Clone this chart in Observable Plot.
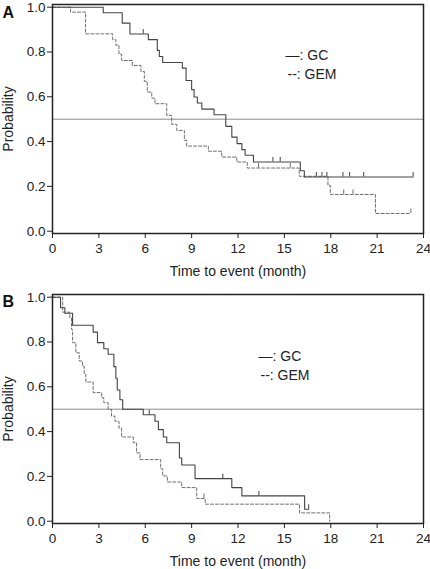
<!DOCTYPE html>
<html><head><meta charset="utf-8">
<script src="https://cdn.jsdelivr.net/npm/d3@7"></script>
<script src="https://cdn.jsdelivr.net/npm/@observablehq/plot@0.6"></script>
<style>
body{margin:0;background:#fff;}
#chart{width:430px;height:569px;font-family:"Liberation Sans",Arial,sans-serif;}
#chart svg{display:block;}
</style></head><body><div id="chart"></div>
<script>
const xTicks = [0, 3, 6, 9, 12, 15, 18, 21, 24];
const yTicks = [0, 0.2, 0.4, 0.6, 0.8, 1.0];
const xTitle = "Time to event (month)";
const yTitle = "Probability";
const seriesNames = ["GC", "GEM"];

// Panel A
const aGcTime = [0, 3.28, 4.51, 5.01, 6.2, 6.78, 6.91, 7.13, 8.4, 8.64, 9.0, 9.16, 9.37, 9.66, 10.45, 11.21, 11.6, 11.94, 12.25, 12.46, 13.0, 16.03, 16.29, 23.33];
const aGcSurv = [1.0, 0.975, 0.929, 0.88, 0.855, 0.807, 0.78, 0.753, 0.728, 0.673, 0.632, 0.599, 0.572, 0.545, 0.52, 0.468, 0.42, 0.391, 0.364, 0.339, 0.309, 0.27, 0.242, 0.242];
const aGcCensTime = [5.87, 14.26, 14.73, 17.07, 17.43, 17.75, 18.79, 19.22, 20.13, 23.33];
const aGcCensSurv = [0.88, 0.309, 0.309, 0.242, 0.242, 0.242, 0.242, 0.242, 0.242, 0.242];
const aGemTime = [0, 1.17, 2.14, 3.89, 4.1, 4.3, 4.47, 5.16, 5.72, 5.94, 6.13, 6.42, 6.63, 7.39, 7.71, 8.04, 8.53, 8.68, 10.08, 10.95, 11.92, 12.6, 15.96, 17.82, 17.97, 20.89, 23.18];
const aGemSurv = [1.0, 0.978, 0.881, 0.855, 0.83, 0.79, 0.762, 0.74, 0.713, 0.669, 0.621, 0.594, 0.569, 0.517, 0.477, 0.45, 0.406, 0.38, 0.357, 0.331, 0.309, 0.282, 0.245, 0.205, 0.164, 0.079, 0.079];
const aGemCensTime = [13.33, 15.38, 18.84, 19.44, 23.18];
const aGemCensSurv = [0.282, 0.282, 0.164, 0.164, 0.079];

// Panel B
const bGcTime = [0, 0.52, 0.8, 1.3, 2.63, 2.91, 3.32, 3.6, 3.97, 4.1, 4.19, 4.36, 4.54, 5.87, 6.63, 6.85, 7.17, 7.39, 8.21, 8.36, 9.22, 11.6, 12.25, 16.31, 16.57];
const bGcSurv = [1.0, 0.953, 0.928, 0.875, 0.844, 0.797, 0.77, 0.745, 0.69, 0.638, 0.586, 0.542, 0.5, 0.475, 0.446, 0.409, 0.376, 0.35, 0.282, 0.251, 0.19, 0.15, 0.113, 0.053, 0.053];
const bGcCensTime = [6.26, 11.02, 13.35, 16.57];
const bGcCensSurv = [0.475, 0.19, 0.113, 0.053];
const bGemTime = [0, 0.66, 1.12, 1.23, 1.3, 1.51, 1.73, 1.94, 2.05, 2.16, 2.63, 3.18, 3.32, 3.6, 3.82, 4.04, 4.3, 4.47, 5.23, 5.44, 5.66, 7.0, 7.13, 7.43, 8.36, 9.33, 9.88, 15.98, 17.93];
const bGemSurv = [1.0, 0.933, 0.908, 0.856, 0.797, 0.752, 0.715, 0.693, 0.656, 0.621, 0.574, 0.551, 0.529, 0.499, 0.469, 0.446, 0.416, 0.376, 0.35, 0.305, 0.275, 0.234, 0.202, 0.175, 0.15, 0.101, 0.076, 0.037, 0.0];
const bGemCensTime = [9.8];
const bGemCensSurv = [0.101];

const medianLine = [0.5];

const zip = (t, s) => t.map((v, i) => ({t: v, s: s[i]}));
const FONT = "Liberation Sans, Arial, sans-serif";
const gcColor = "#444444", gemColor = "#6e6e6e";

function panel({letter, gcT, gcS, gcCT, gcCS, gemT, gemS, gemCT, gemCS, height, marginTop, marginBottom, legendDx, legendDy, letterDy}) {
  const gc = zip(gcT, gcS), gem = zip(gemT, gemS);
  const gcC = zip(gcCT, gcCS), gemC = zip(gemCT, gemCS);
  return Plot.plot({
    width: 430, height, marginLeft: 52, marginRight: 7, marginTop, marginBottom,
    style: {fontSize: "13.5px", fontFamily: FONT, color: "#222", background: "white", overflow: "visible"},
    x: {domain: [0, 24], ticks: xTicks, tickSize: 5, tickPadding: 5, label: null},
    y: {domain: [-0.0103, 1.012], ticks: yTicks, tickFormat: d3.format(".1f"), tickSize: 5, tickPadding: 2, label: null},
    marks: [
      Plot.ruleY(medianLine, {stroke: "#8a8a8a", strokeWidth: 1}),
      Plot.line(gem, {x: "t", y: "s", curve: "step-after", stroke: gemColor, strokeWidth: 1, strokeDasharray: "3,2"}),
      Plot.line(gc, {x: "t", y: "s", curve: "step-after", stroke: gcColor, strokeWidth: 1.1}),
      Plot.ruleX(gcC, {x: "t", y1: "s", y2: d => d.s + 0.02, stroke: gcColor, strokeWidth: 1}),
      Plot.ruleX(gemC, {x: "t", y1: "s", y2: d => d.s + 0.02, stroke: gemColor, strokeWidth: 1}),
      Plot.frame({stroke: "#222", strokeWidth: 1.5}),
      Plot.text([letter], {frameAnchor: "top-left", dx: -50, dy: letterDy, fontWeight: "bold", fontSize: 16, textAnchor: "start", lineAnchor: "middle", fill: "#111", fontFamily: FONT}),
      Plot.text([yTitle], {frameAnchor: "left", dx: -44, rotate: -90, fontSize: 14, textAnchor: "middle", lineAnchor: "middle", fill: "#222", fontFamily: FONT}),
      Plot.text([xTitle], {frameAnchor: "bottom", dy: 38, fontSize: 14, textAnchor: "middle", lineAnchor: "middle", fill: "#222", fontFamily: FONT}),
      Plot.text(["\u2014: " + seriesNames[0]], {frameAnchor: "top-left", dx: legendDx, dy: legendDy, fontSize: 14, textAnchor: "start", lineAnchor: "middle", fill: "#222", fontFamily: FONT}),
      Plot.text(["--: " + seriesNames[1]], {frameAnchor: "top-left", dx: legendDx + 2, dy: legendDy + 19, fontSize: 14, textAnchor: "start", lineAnchor: "middle", fill: "#222", fontFamily: FONT})
    ]
  });
}

const root = document.getElementById("chart");
root.append(panel({letter: "A", gcT: aGcTime, gcS: aGcSurv, gcCT: aGcCensTime, gcCS: aGcCensSurv,
  gemT: aGemTime, gemS: aGemSurv, gemCT: aGemCensTime, gemCS: aGemCensSurv,
  height: 289, marginTop: 4, marginBottom: 56, legendDx: 233, legendDy: 51, letterDy: 8}));
root.append(panel({letter: "B", gcT: bGcTime, gcS: bGcSurv, gcCT: bGcCensTime, gcCS: bGcCensSurv,
  gemT: bGemTime, gemS: bGemSurv, gemCT: bGemCensTime, gemCS: bGemCensSurv,
  height: 280, marginTop: 5, marginBottom: 46, legendDx: 206, legendDy: 62, letterDy: 7}));
</script>
</body></html>
